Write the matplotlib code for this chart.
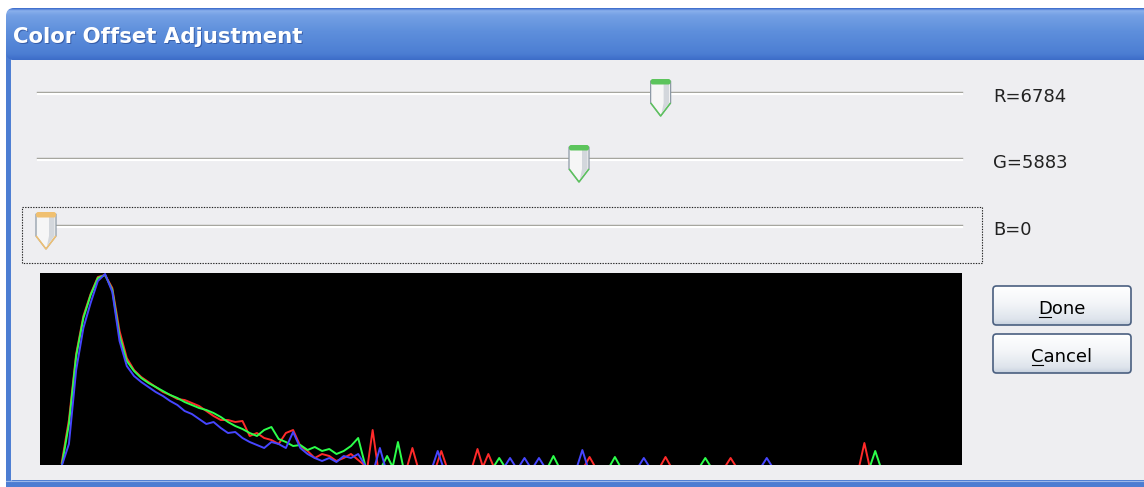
import matplotlib
matplotlib.use("Agg")
import matplotlib.pyplot as plt
import numpy as np
from matplotlib.patches import Rectangle, FancyBboxPatch, Polygon
from matplotlib.colors import to_rgb

# ---------------- data ----------------
dialog_title = "Color Offset Adjustment"
slider_channels = ["R", "G", "B"]
slider_values = [6784, 5883, 0]
slider_max = 10000
focused_slider = "B"
button_labels = ["Done", "Cancel"]
button_mnemonic_index = [0, 0]

# histogram body (intensity level -> count, in display units 0..192)
hist_levels = [6, 8, 10, 12, 14, 16, 18, 20, 22, 24, 26, 28, 30, 32, 34, 36, 38, 40, 42, 44, 46,
               48, 50, 52, 54, 56, 58, 60, 62, 64, 66, 68, 70, 72, 74, 76, 78, 80, 82, 84, 86, 88, 90]
hist_red = [3, 46, 112, 150, 172, 189, 191, 178, 135, 108, 96, 89, 84, 79, 74, 71, 67, 66, 63, 60, 55,
            50, 46, 46, 44, 45, 30, 33, 28, 26, 22, 33, 36, 20, 15, 8, 12, 10, 5, 8, 12, 6, 0]
hist_green = [0, 42, 110, 148, 171, 188, 191, 176, 130, 105, 95, 88, 83, 79, 75, 71, 68, 64, 61, 58, 56,
              53, 49, 44, 40, 37, 33, 30, 36, 39, 27, 24, 20, 21, 16, 19, 15, 17, 12, 15, 20, 28, 0]
hist_blue = [0, 22, 96, 138, 163, 185, 192, 174, 125, 100, 90, 84, 79, 74, 70, 65, 61, 55, 52, 47, 42,
             44, 38, 33, 34, 28, 24, 21, 18, 24, 22, 18, 34, 18, 12, 8, 5, 8, 4, 10, 8, 12, 0]

# isolated spikes in the sparse upper part of the histogram
red_spike_levels = [92, 103, 111, 121, 124, 152, 173, 191, 228]
red_spike_counts = [36, 18, 15, 17, 12, 9, 9, 8, 23]
green_spike_levels = [96, 99, 127, 142, 159, 184, 231]
green_spike_counts = [10, 24, 8, 10, 9, 8, 15]
blue_spike_levels = [94, 110, 130, 134, 138, 150, 167, 201]
blue_spike_counts = [18, 15, 8, 8, 8, 16, 8, 8]
# --------------------------------------

W, H, DPI = 1144, 487, 100
fig = plt.figure(figsize=(W / DPI, H / DPI), dpi=DPI)
fig.patch.set_facecolor("white")
ax = fig.add_axes([0, 0, 1, 1])
ax.set_xlim(0, W)
ax.set_ylim(H, 0)
ax.axis("off")
ax.set_autoscale_on(False)


def vgrad(x0, y0, w, h, stops, clip=None, z=1):
    ys = np.linspace(0, 1, 256)
    pos = [s[0] for s in stops]
    cols = np.array([to_rgb(s[1]) for s in stops])
    img = np.stack([np.interp(ys, pos, cols[:, k]) for k in range(3)], axis=-1)[:, None, :]
    im = ax.imshow(img, extent=(x0, x0 + w, y0 + h, y0), aspect="auto",
                   interpolation="bilinear", zorder=z)
    if clip is not None:
        im.set_clip_path(clip)
    return im


FRAME = "#4C7DD2"
# window frame
ax.add_patch(Rectangle((6, 30), W, H, fc=FRAME, ec="none", zorder=0))
ax.add_line(plt.Line2D([10.5, 10.5], [58, 481], color="#8FB0E6", lw=0.8, zorder=0.5))
# title bar
tb = FancyBboxPatch((6, 8), W + 20, 52, boxstyle="round,pad=0,rounding_size=8",
                    fc="none", ec="none", zorder=1)
ax.add_patch(tb)
vgrad(6, 8, W, 52, [(0, "#3465C8"), (0.05, "#8AB0EC"), (0.14, "#74A0E4"),
                    (0.45, "#5E8FDC"), (0.88, "#4C7ED3"), (1.0, "#3C6CC8")], clip=tb, z=1)
# dialog body
ax.add_patch(Rectangle((11, 60), W, 420, fc="#EEEEF1", ec="none", zorder=1))
ax.add_line(plt.Line2D([6, W], [480.5, 480.5], color="#9BB8EA", lw=0.8, zorder=2))

# title text
ax.text(14, 44, dialog_title, color="#1E3C84", alpha=0.55, fontsize=15.3,
        fontweight="bold", family="DejaVu Sans", va="baseline", ha="left", zorder=3)
ax.text(13, 43, dialog_title, color="white", fontsize=15.3,
        fontweight="bold", family="DejaVu Sans", va="baseline", ha="left", zorder=4)

# sliders
track_y = [92, 158, 225]
track_x0, track_x1 = 37, 962
thumb_x0, thumb_x1 = 46, 952
label_x = 993


def draw_thumb(cx, ty, accent):
    l, r = cx - 10, cx + 10
    top = ty - 13
    body_bot = ty + 11
    tip = ty + 24
    ax.add_patch(Polygon([(l, top + 2), (r, top + 2), (r, body_bot), (cx, tip), (l, body_bot)],
                         closed=True, fc="#F6F6F6", ec="#8E9AA6", lw=0.9, zorder=6))
    ax.add_patch(Polygon([(cx + 3, top + 5), (r - 1.5, top + 5), (r - 1.5, body_bot),
                          (cx + 1, tip - 3), (cx + 3, body_bot)],
                         closed=True, fc="#D3D7DC", ec="none", zorder=6.5))
    ax.add_patch(FancyBboxPatch((l, top), 20, 5.5, boxstyle="round,pad=0,rounding_size=2.2",
                                fc=accent, ec="none", zorder=7))
    ax.add_line(plt.Line2D([l + 0.5, cx, r - 0.5], [body_bot + 0.5, tip, body_bot + 0.5],
                           color=accent, lw=1.1, zorder=7))


for name, val, ty in zip(slider_channels, slider_values, track_y):
    ax.add_line(plt.Line2D([track_x0, track_x1], [ty, ty], color="#9C9C94", lw=1.0, zorder=3))
    ax.add_line(plt.Line2D([track_x0 + 1, track_x1], [ty + 2, ty + 2], color="white", lw=1.6, zorder=3))
    cx = thumb_x0 + val / slider_max * (thumb_x1 - thumb_x0)
    accent = "#F0C070" if name == focused_slider else "#5CC45C"
    draw_thumb(cx, ty, accent)
    ax.text(label_x, ty + 10, f"{name}={val}", fontsize=13, family="DejaVu Sans",
            color="#222222", va="baseline", ha="left", zorder=5)
    if name == focused_slider:
        ax.add_patch(Rectangle((22, ty - 18), 960, 56, fc="none", ec="#222222", lw=0.8,
                               ls=(0, (1.2, 1.2)), zorder=4))

# buttons
btn_x, btn_w, btn_h = 993, 138, 39
btn_y = [286, 334]
texts = []
for lab, by in zip(button_labels, btn_y):
    p = FancyBboxPatch((btn_x, by), btn_w, btn_h, boxstyle="round,pad=0,rounding_size=3.5",
                       fc="none", ec="#4A5F80", lw=1.2, zorder=6)
    ax.add_patch(p)
    vgrad(btn_x, by, btn_w, btn_h, [(0, "#FFFFFF"), (0.45, "#F3F5F8"), (0.85, "#DEE4EC"),
                                    (1.0, "#C6D0DE")], clip=p, z=5)
    t = ax.text(btn_x + btn_w / 2, by + btn_h / 2 + 8, lab, fontsize=13, family="DejaVu Sans",
                color="black", ha="center", va="baseline", zorder=7)
    texts.append((t, lab, by))

ax.set_xlim(0, W)
ax.set_ylim(H, 0)

fig.canvas.draw()
renderer = fig.canvas.get_renderer()
inv = ax.transData.inverted()
for (t, lab, by), mi in zip(texts, button_mnemonic_index):
    bb = t.get_window_extent(renderer)
    tmp = ax.text(0, 0, lab[mi], fontsize=13, family="DejaVu Sans")
    cw = tmp.get_window_extent(renderer).width
    pre = ax.text(0, 0, lab[:mi], fontsize=13, family="DejaVu Sans") if mi > 0 else None
    off = pre.get_window_extent(renderer).width if pre is not None else 0
    tmp.remove()
    if pre is not None:
        pre.remove()
    xl = inv.transform((bb.x0, bb.y0))[0] + off
    yb = by + btn_h / 2 + 8 + 3
    ax.add_line(plt.Line2D([xl + 1, xl + cw - 1], [yb, yb], color="black", lw=0.8, zorder=7))

# histogram
hx0, hx1, hy0, hy1 = 40, 962, 273, 465
hax = fig.add_axes([hx0 / W, 1 - hy1 / H, (hx1 - hx0) / W, (hy1 - hy0) / H])
hax.set_facecolor("black")
hax.set_xlim(0, 255)
hax.set_ylim(1, 193)
hax.set_xticks([])
hax.set_yticks([])
for s in hax.spines.values():
    s.set_visible(False)


def channel_points(levels, counts, sl, sc):
    xs = list(levels)
    ys = list(counts)
    for L, c in sorted(zip(sl, sc)):
        xs += [L - 1.4, L, L + 1.4]
        ys += [0, c, 0]
    xs.append(255)
    ys.append(0)
    return xs, ys


for counts, sl, sc, col in [
    (hist_red, red_spike_levels, red_spike_counts, "#FF2A2A"),
    (hist_green, green_spike_levels, green_spike_counts, "#2CFF4A"),
    (hist_blue, blue_spike_levels, blue_spike_counts, "#4646FF"),
]:
    xs, ys = channel_points(hist_levels, counts, sl, sc)
    hax.plot(xs, ys, color=col, lw=1.4, solid_joinstyle="round")

fig.savefig("out.png", dpi=DPI)
